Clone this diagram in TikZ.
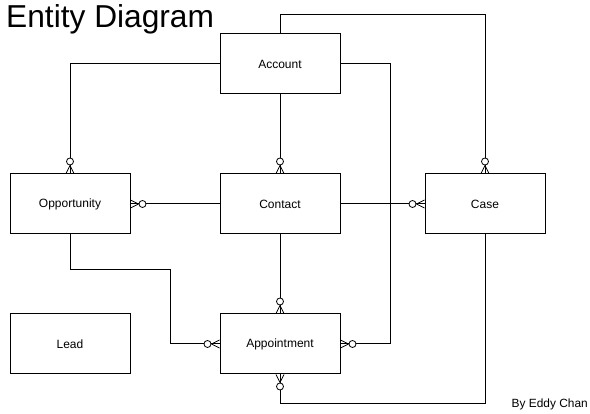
\documentclass[tikz,border=0pt]{standalone}
\usepackage{fontspec}
\setmainfont{Liberation Sans}
\usetikzlibrary{decorations.markings}
\tikzset{
  entity/.style={draw, line width=1pt, minimum width=120pt, minimum height=60pt, inner sep=0pt, font=\fontsize{12}{14}\selectfont},
  link/.style={line width=1pt},
  zmany/.style={link, postaction={decorate}, decoration={markings, mark=at position 1 with {
      \draw[line width=0.8pt] (-8pt,0pt) -- (0pt,4pt);
      \draw[line width=0.8pt] (-8pt,0pt) -- (0pt,-4pt);
      \draw[line width=0.8pt, fill=white] (-12pt,0pt) circle (3.5pt);}}}
}
\begin{document}
\begin{tikzpicture}[x=1pt,y=-1pt]
\useasboundingbox (0,0) rectangle (590,414);
\node[anchor=base west, font=\fontsize{31.7}{36}\selectfont, inner sep=0pt] (title) at (6,28) {Entity Diagram};
\node[entity] (account) at (280,64) {Account};
\node[entity] (opp) at (70,204) {Opportunity};
\node[entity] (contact) at (280,204) {Contact};
\node[entity] (case) at (485,204) {Case};
\node[entity] (lead) at (70,344) {Lead};
\node[entity] (appt) at (280,344) {Appointment};
\node[anchor=base east, font=\fontsize{11.9}{14}\selectfont, inner sep=0pt] (author) at (588,408) {By Eddy Chan};
% corner points
\coordinate (top) at (280,15);
\coordinate (right) at (390,344);
\coordinate (mid) at (170,270);
\coordinate (low) at (485,404);
% relations
\draw[zmany] (account.west) -| (opp.north);
\draw[zmany] (account.north) -- (top) -| (case.north);
\draw[zmany] (account.east) -| (right) -- (appt.east);
\draw[zmany] (account.south) -- (contact.north);
\draw[zmany] (contact.west) -- (opp.east);
\draw[zmany] (contact.east) -- (case.west);
\draw[zmany] (contact.south) -- (appt.north);
\draw[zmany] (opp.south) |- (mid) |- (appt.west);
\draw[zmany] (case.south) -- (low) -| (appt.south);
\end{tikzpicture}
\end{document}
